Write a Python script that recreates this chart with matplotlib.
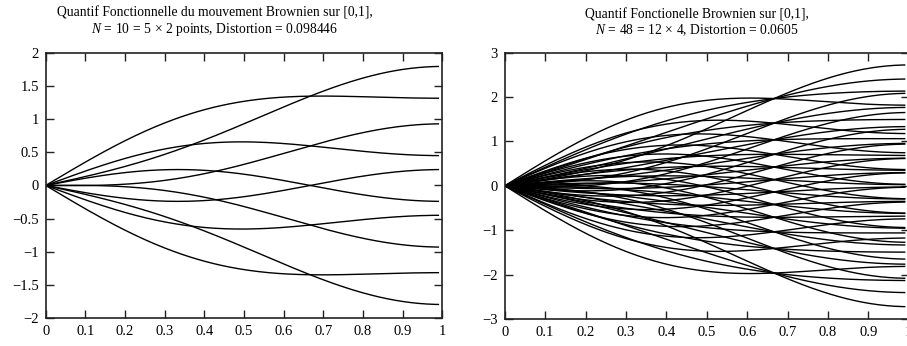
import numpy as np
import matplotlib
matplotlib.use("Agg")
import matplotlib.pyplot as plt

plt.rcParams["font.family"] = ["Liberation Serif", "DejaVu Serif"]
plt.rcParams["mathtext.fontset"] = "custom"
plt.rcParams["mathtext.rm"] = "Liberation Serif"
plt.rcParams["mathtext.it"] = "Liberation Serif:italic"
plt.rcParams["mathtext.bf"] = "Liberation Serif:bold"
plt.rcParams["axes.unicode_minus"] = True

left_levels_1 = [-1.7241, -0.7646, 0.0, 0.7646, 1.7241]
left_levels_2 = [-0.7979, 0.7979]
right_levels_1 = [-2.52, -1.81, -1.33, -0.91, -0.54, -0.18,
                  0.18, 0.54, 0.91, 1.33, 1.81, 2.52]
right_levels_2 = [-1.5104, -0.4528, 0.4528, 1.5104]

left_title = "Quantif Fonctionnelle du mouvement Brownien sur [0,1],\n" \
             r"$N\,=\,10\,=\,5\,\times\,2$ points, Distortion = 0.098446"
right_title = "Quantif Fonctionelle Brownien sur [0,1],\n" \
              r"$N\,=\,48\,=\,12\,\times\,4$, Distortion = 0.0605"

t = np.linspace(0, 0.99, 200)


def kl_path(a1, a2):
    # first two Karhunen-Loeve terms of Brownian motion on [0,1]
    out = np.zeros_like(t)
    for k, a in ((1, a1), (2, a2)):
        w = (k - 0.5) * np.pi
        out += a * np.sqrt(2) * np.sin(w * t) / w
    return out


def style(ax, yticks):
    ax.set_xlim(0, 1)
    ax.set_xticks(np.round(np.arange(0, 1.01, 0.1), 1))
    ax.set_xticklabels(["0"] + [f"{v:.1f}" for v in np.arange(0.1, 0.95, 0.1)] + ["1"])
    ax.set_yticks(yticks)
    ax.tick_params(direction="in", top=True, right=True, length=6, width=1,
                   labelsize=10.5, color="#222222", pad=5)
    for s in ax.spines.values():
        s.set_linewidth(1.2)
        s.set_color("#222222")


fig = plt.figure(figsize=(9.07, 3.46), dpi=100)
ax1 = fig.add_axes([0.0504, 0.080, 0.4373, 0.768])
ax2 = fig.add_axes([0.5565, 0.078, 0.4454, 0.770])

for a1 in left_levels_1:
    for a2 in left_levels_2:
        ax1.plot(t, kl_path(a1, a2), color="black", lw=1.0)
ax1.set_ylim(-2, 2)
style(ax1, np.arange(-2, 2.01, 0.5))
ax1.set_yticklabels(["\u22122", "\u22121.5", "\u22121", "\u22120.5", "0",
                     "0.5", "1", "1.5", "2"])
ax1.text(0.427, 1.055, left_title, transform=ax1.transAxes, ha="center",
         va="bottom", fontsize=9.8, linespacing=1.1)

for a1 in right_levels_1:
    for a2 in right_levels_2:
        ax2.plot(t, kl_path(a1, a2), color="black", lw=1.0)
ax2.set_ylim(-3, 3)
style(ax2, np.arange(-3, 3.01, 1))
ax2.set_yticklabels(["\u22123", "\u22122", "\u22121", "0", "1", "2", "3"])
ax2.text(0.476, 1.055, right_title, transform=ax2.transAxes, ha="center",
         va="bottom", fontsize=9.8, linespacing=1.1)

fig.savefig("out.png", dpi=100)
